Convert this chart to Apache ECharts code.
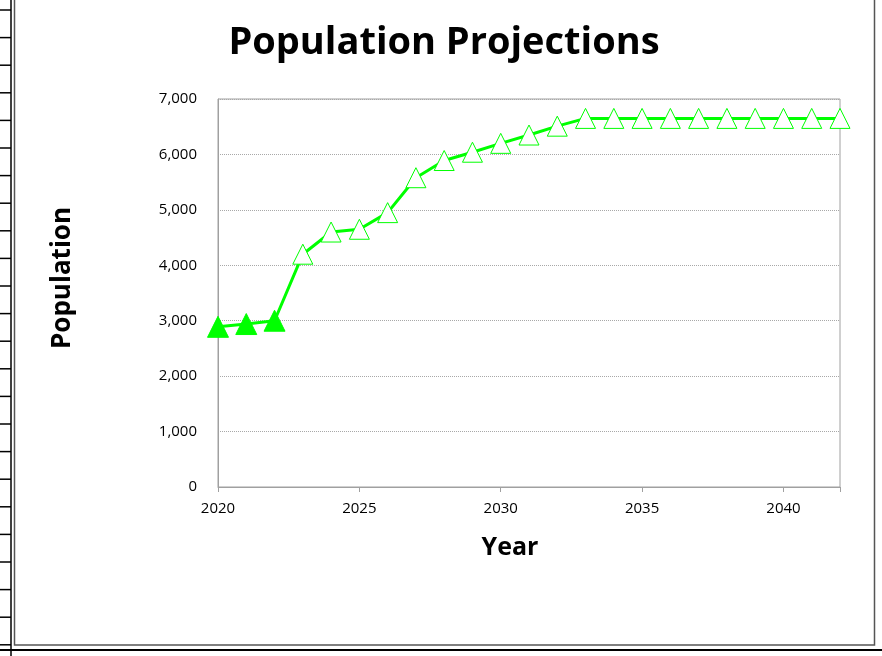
<!DOCTYPE html>
<html><head><meta charset="utf-8">
<script src="https://cdn.jsdelivr.net/npm/echarts@6/dist/echarts.min.js"></script>
<style>html,body{margin:0;padding:0;background:#fff;}#c{width:882px;height:656px;}</style>
</head><body><div id="c"></div>
<script>
const years = [2020,2021,2022,2023,2024,2025,2026,2027,2028,2029,2030,2031,2032,2033,2034,2035,2036,2037,2038,2039,2040,2041,2042];
const population = [2890,2940,3000,4200,4600,4650,4950,5580,5890,6040,6200,6350,6510,6650,6650,6650,6650,6650,6650,6650,6650,6650,6650];
const historicCount = 3; // filled markers for first three years
const yTicks = [0,1000,2000,3000,4000,5000,6000,7000];

const chart = echarts.init(document.getElementById('c'));
const data = years.map((y,i)=>{
  const filled = i < historicCount;
  return {
    value:[y, population[i]],
    symbolSize: filled ? [21,21] : [20,20],
    itemStyle: filled ? {color:'#00ff00', borderColor:'#00ff00', borderWidth:1} : {color:'#ffffff', borderColor:'#00ff00', borderWidth:1}
  };
});
const font = '"Open Sans", "Liberation Sans", sans-serif';
const rowLines = [];
for (let k=0;k<24;k++){
  rowLines.push({type:'line', shape:{x1:0,y1:10+k*27.6,x2:11,y2:10+k*27.6}, style:{stroke:'#000',lineWidth:1.5}, silent:true});
}
chart.setOption({
  animation:false,
  backgroundColor:'#fff',
  title:{text:'Population Projections', left:439, top:19, textAlign:'center',
    textStyle:{fontFamily:font, fontWeight:'bold', fontSize:38, color:'#000'}},
  graphic:[
    {type:'line', shape:{x1:11,y1:0,x2:11,y2:656}, style:{stroke:'#000',lineWidth:1.5}, silent:true},
    {type:'rect', shape:{x:14.5,y:-2,width:860,height:647}, style:{fill:'none',stroke:'#555',lineWidth:1.5}, silent:true},
    {type:'line', shape:{x1:0,y1:650,x2:882,y2:650}, style:{stroke:'#000',lineWidth:2}, silent:true}
  ].concat(rowLines),
  grid:{left:218, right:42, top:99, bottom:169, show:true, borderColor:'#a0a0a0', borderWidth:1},
  xAxis:{type:'value', min:2020, max:2042, interval:5,
    name:'Year', nameLocation:'middle', nameGap:48,
    nameTextStyle:{fontFamily:font, fontWeight:'bold', fontSize:25, color:'#000', padding:[0,38,0,0]},
    axisLine:{show:true, lineStyle:{color:'#a0a0a0', width:1}},
    axisTick:{show:true, inside:false, length:5, lineStyle:{color:'#a0a0a0'}},
    axisLabel:{fontFamily:font, fontSize:15, color:'#000', margin:14,
      formatter:v=> (v<=2040 ? String(v) : '')},
    splitLine:{show:false}},
  yAxis:{type:'value', min:0, max:7000, interval:1000,
    name:'Population', nameLocation:'middle', nameGap:142, nameRotate:90,
    nameTextStyle:{fontFamily:font, fontWeight:'bold', fontSize:26, color:'#000', padding:[0,0,0,30]},
    axisLine:{show:true, lineStyle:{color:'#a0a0a0', width:1}},
    axisTick:{show:false},
    axisLabel:{fontFamily:font, fontSize:15, color:'#000', margin:21,
      formatter:v=>v.toLocaleString('en-US')},
    splitLine:{show:true, lineStyle:{color:'#a8a8a8', type:[1,1], width:1}}},
  series:[{type:'line', data:data, symbol:'triangle', showAllSymbol:true,
    lineStyle:{color:'#00ff00', width:3}, itemStyle:{color:'#00ff00'}, z:3}]
});
</script></body></html>
